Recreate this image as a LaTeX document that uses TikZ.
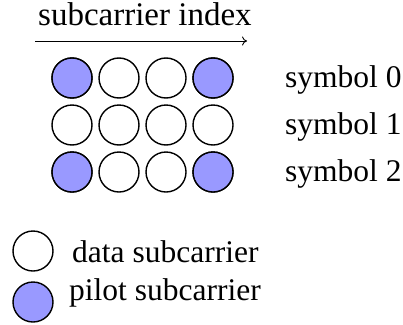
\documentclass[tikz,border=0pt]{standalone}
\usepackage{fontspec}
\setmainfont{Liberation Serif}
\usetikzlibrary{arrows.meta}
\definecolor{pilotblue}{RGB}{153,153,255}
\begin{document}
\begin{tikzpicture}[x=1pt,y=-1pt,
  sc/.style={circle,draw=black,line width=1.4pt,minimum size=40pt,inner sep=0pt},
  datasc/.style={sc,fill=white},
  pilotsc/.style={sc,fill=pilotblue},
  lbl/.style={anchor=base west,inner sep=0pt,font=\fontsize{31.5}{36}\selectfont}]
\useasboundingbox (0,0) rectangle (403,324);
% grid
\foreach \r/\y in {0/78,1/125,2/172}{
  \foreach \c/\x in {0/72,1/119,2/166,3/213}{
    \node[datasc] (c\r\c) at (\x,\y) {};
  }
}
\node[pilotsc] at (c00) {};
\node[pilotsc] at (c03) {};
\node[pilotsc] at (c20) {};
\node[pilotsc] at (c23) {};
% header
\node[lbl,font=\fontsize{33}{38}\selectfont] (hdr) at (38,25) {subcarrier index};
\coordinate (a0) at (35,41);
\coordinate (a1) at (247,41);
\draw[line width=0.9pt,-{To[length=5pt,width=9pt]}] (a0) -- (a1);
% row labels
\node[lbl] (s0) at (285,87) {symbol 0};
\node[lbl] (s1) at (285,134) {symbol 1};
\node[lbl] (s2) at (285,181) {symbol 2};
% legend
\node[datasc] (ld) at (33,251) {};
\node[pilotsc] (lp) at (33,302) {};
\node[lbl] (td) at (72,262) {data subcarrier};
\node[lbl] (tp) at (69,300) {pilot subcarrier};
\end{tikzpicture}
\end{document}
